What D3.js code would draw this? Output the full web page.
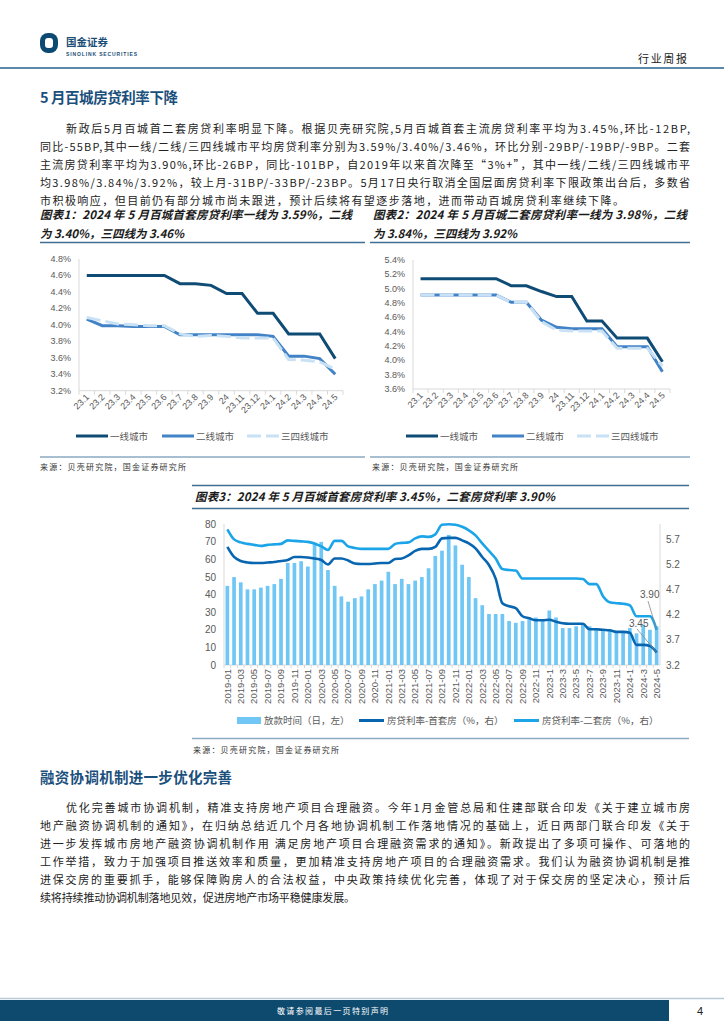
<!DOCTYPE html>
<html>
<head>
<meta charset="utf-8">
<script src="https://cdn.jsdelivr.net/npm/d3@7"></script>
<style>
body{margin:0;background:#fff}
svg{display:block}
text{font-family:"Liberation Sans","Noto Sans CJK SC",sans-serif}
.cjk{font-family:"Noto Sans CJK SC",sans-serif}
</style>
</head>
<body>
<svg id="page" width="724" height="1024"></svg>
<script>
// ---- data: charts 1 & 2 ----
let cityMonths = ['23.1','23.2','23.3','23.4','23.5','23.6','23.7','23.8','23.9','24','23.11','23.12','24.1','24.2','24.3','24.4','24.5']
let firstTier1 = [4.60,4.60,4.60,4.60,4.60,4.60,4.50,4.50,4.48,4.38,4.38,4.14,4.14,3.89,3.89,3.89,3.59]
let secondTier1 = [4.07,3.99,3.99,3.98,3.98,3.98,3.88,3.88,3.88,3.88,3.88,3.88,3.86,3.62,3.62,3.59,3.40]
let thirdTier1 = [4.09,4.05,4.01,4.00,3.99,3.99,3.89,3.86,3.87,3.86,3.84,3.84,3.84,3.58,3.57,3.55,3.46]
let firstTier2 = [5.14,5.14,5.14,5.14,5.14,5.14,5.04,5.04,4.96,4.89,4.89,4.55,4.55,4.31,4.31,4.31,3.98]
let secondTier2 = [4.91,4.91,4.91,4.91,4.91,4.91,4.81,4.81,4.56,4.46,4.44,4.44,4.44,4.19,4.19,4.19,3.84]
let thirdTier2 = [4.91,4.91,4.91,4.91,4.91,4.91,4.81,4.81,4.54,4.42,4.41,4.41,4.41,4.17,4.17,4.17,3.92]
let tierNames = ['一线城市','二线城市','三四线城市']

// ---- data: chart 3 ----
let loanMonths = []
for (let y = 2019; y <= 2024; y++) {
  for (let m = 1; m <= 12; m++) {
    if (y === 2024 && m > 5) break
    loanMonths.push(y + '-' + (y < 2023 && m < 10 ? '0' + m : m))
  }
}
let loanDays = [45,50,47,43,43,44,45,46,49,58,58,59,
  56,69,70,54,45,39,36,38,39,43,46,48,
  53,46,49,46,48,50,55,62,65,74,68,57,
  50,38,34,29,29,29,25,24,25,26,27,26,
  31,27,21,21,22,23,22,21,20,20,19,19,
  21,18,23,20,22]
let firstRate = [5.55,5.35,5.27,5.24,5.23,5.23,5.24,5.25,5.27,5.29,5.35,5.35,
  5.34,5.32,5.29,5.20,5.32,5.32,5.28,5.22,5.21,5.21,5.22,5.23,
  5.23,5.31,5.32,5.38,5.47,5.51,5.51,5.55,5.72,5.73,5.73,5.68,
  5.62,5.52,5.35,5.19,4.92,4.43,4.37,4.33,4.17,4.13,4.09,4.09,
  4.10,4.06,4.03,4.02,4.02,4.02,3.91,3.91,3.90,3.89,3.86,3.86,
  3.84,3.60,3.60,3.58,3.45]
let secondRate = [5.90,5.70,5.64,5.61,5.59,5.57,5.59,5.60,5.61,5.68,5.67,5.66,
  5.65,5.62,5.56,5.49,5.67,5.67,5.56,5.53,5.51,5.51,5.51,5.51,
  5.51,5.61,5.63,5.64,5.72,5.76,5.75,5.80,5.99,6.00,5.99,5.95,
  5.88,5.78,5.62,5.47,5.32,5.11,5.09,5.08,4.92,4.92,4.92,4.92,
  4.92,4.92,4.92,4.92,4.92,4.91,4.81,4.81,4.57,4.45,4.43,4.42,
  4.39,4.17,4.17,4.17,3.90]
let leftTicks = [0,10,20,30,40,50,60,70,80]
let rightTicks = [3.2,3.7,4.2,4.7,5.2,5.7]
let loanLegend = ['放款时间（日，左）','房贷利率-首套房（%，右）','房贷利率-二套房（%，右）']

// ---- text ----
let para1 = [
  '新政后5月百城首二套房贷利率明显下降。根据贝壳研究院,5月百城首套主流房贷利率平均为3.45%,环比-12BP,',
  '同比-55BP,其中一线/二线/三四线城市平均房贷利率分别为3.59%/3.40%/3.46%，环比分别-29BP/-19BP/-9BP。二套',
  '主流房贷利率平均为3.90%,环比-26BP，同比-101BP，自2019年以来首次降至“3%+”，其中一线/二线/三四线城市平',
  '均3.98%/3.84%/3.92%，较上月-31BP/-33BP/-23BP。5月17日央行取消全国层面房贷利率下限政策出台后，多数省',
  '市积极响应，但目前仍有部分城市尚未跟进，预计后续将有望逐步落地，进而带动百城房贷利率继续下降。'
]
let para2 = [
  '优化完善城市协调机制，精准支持房地产项目合理融资。今年1月金管总局和住建部联合印发《关于建立城市房',
  '地产融资协调机制的通知》，在归纳总结近几个月各地协调机制工作落地情况的基础上，近日两部门联合印发《关于',
  '进一步发挥城市房地产融资协调机制作用 满足房地产项目合理融资需求的通知》。新政提出了多项可操作、可落地的',
  '工作举措，致力于加强项目推送效率和质量，更加精准支持房地产项目的合理融资需求。我们认为融资协调机制是推',
  '进保交房的重要抓手，能够保障购房人的合法权益，中央政策持续优化完善，体现了对于保交房的坚定决心，预计后',
  '续将持续推动协调机制落地见效，促进房地产市场平稳健康发展。'
]

let svg = d3.select('#page')
let navy = '#0d4a6e'

// header
svg.append('rect').attr('x', 40).attr('y', 33).attr('width', 18).attr('height', 20).attr('rx', 8).attr('fill', '#0d4a73')
svg.append('rect').attr('x', 45).attr('y', 38).attr('width', 8).attr('height', 10).attr('rx', 3).attr('fill', '#fff')
svg.append('text').attr('class', 'cjk').attr('x', 66).attr('y', 46).attr('font-size', 10.5).attr('font-weight', 'bold')
  .attr('fill', '#1c4f78').attr('textLength', 42).attr('lengthAdjust', 'spacing').text('国金证券')
svg.append('text').attr('x', 66).attr('y', 55.5).attr('font-size', 5).attr('font-weight', 'bold')
  .attr('fill', '#1c4f78').attr('textLength', 71).text('SINOLINK SECURITIES')
svg.append('text').attr('class', 'cjk').attr('x', 638).attr('y', 63).attr('font-size', 11)
  .attr('fill', '#222').attr('textLength', 49).text('行业周报')
svg.append('line').attr('x1', 0).attr('x2', 724).attr('y1', 68).attr('y2', 68).attr('stroke', '#5b87a8').attr('stroke-width', 2)

// headings & paragraphs
let heading = (txt, y, w) => {
  svg.append('text').attr('class', 'cjk').attr('x', 40).attr('y', y).attr('font-size', 14.5)
    .attr('font-weight', 'bold').attr('fill', '#1b4f7c').attr('textLength', w).text(txt)
}
let paragraph = (lines, y0, lastEnd) => {
  lines.forEach((t, i) => {
    let x = i === 0 ? 66 : 40
    let end = i === lines.length - 1 ? lastEnd : 690
    svg.append('text').attr('class', 'cjk').attr('x', x).attr('y', y0 + i * 18).attr('font-size', 11)
      .attr('fill', '#222').attr('textLength', end - x).attr('lengthAdjust', 'spacing').text(t)
  })
}
heading('5 月百城房贷利率下降', 103, 138)
paragraph(para1, 132.5, 624)
heading('融资协调机制进一步优化完善', 783, 192)
paragraph(para2, 812, 355)

// chart title helper
let title = (lines, x, y, widths) => {
  lines.forEach((t, i) => {
    svg.append('text').attr('class', 'cjk').attr('x', x).attr('y', y + i * 18.5).attr('font-size', 11.5)
      .attr('font-weight', 'bold').attr('font-style', 'italic').attr('fill', '#1a1a1a')
      .attr('textLength', widths[i]).attr('lengthAdjust', 'spacing').text(t)
  })
}
let rule = (x1, x2, y, c, w) => {
  svg.append('line').attr('x1', x1).attr('x2', x2).attr('y1', y).attr('y2', y).attr('stroke', c).attr('stroke-width', w)
}
let source = (x, y) => {
  svg.append('text').attr('class', 'cjk').attr('x', x).attr('y', y).attr('font-size', 8)
    .attr('fill', '#333').attr('textLength', 146).text('来源：贝壳研究院，国金证券研究所')
}

// small line charts
let tierStyles = [
  {color: '#0f4c75', dash: null},
  {color: '#4282c6', dash: null},
  {color: '#c9e1f4', dash: '14,5'}
]
let drawSmall = (opt) => {
  let g = svg.append('g')
  let x = d3.scaleBand().domain(cityMonths).range([opt.x0, opt.x1])
  let y = d3.scaleLinear().domain(opt.domain).range([opt.yb, opt.yt])
  let ticks = d3.range(opt.domain[0], opt.domain[1] + 0.001, 0.2)
  g.selectAll('.yl').data(ticks).enter().append('text')
    .attr('x', opt.x0 - 8).attr('y', d => y(d) + 3).attr('text-anchor', 'end')
    .attr('font-size', 9).attr('fill', '#595959').text(d => d3.format('.1f')(d) + '%')
  g.append('line').attr('x1', opt.x0).attr('x2', opt.x0).attr('y1', opt.yt).attr('y2', opt.yb).attr('stroke', '#d9d9d9')
  g.append('line').attr('x1', opt.x0).attr('x2', opt.x1).attr('y1', opt.yb).attr('y2', opt.yb).attr('stroke', '#d9d9d9')
  g.selectAll('.tk').data(cityMonths.concat(['end'])).enter().append('line')
    .attr('x1', (d, i) => opt.x0 + i * x.step()).attr('x2', (d, i) => opt.x0 + i * x.step())
    .attr('y1', opt.yb).attr('y2', opt.yb + 4).attr('stroke', '#d9d9d9')
  g.selectAll('.xl').data(cityMonths).enter().append('text')
    .attr('transform', d => `translate(${x(d) + x.bandwidth() / 2 + 3},${opt.yb + 7}) rotate(-45)`)
    .attr('text-anchor', 'end').attr('font-size', 9).attr('fill', '#595959').text(d => d)
  let line = d3.line().x((d, i) => x(cityMonths[i]) + x.bandwidth() / 2).y(d => y(d))
  opt.series.forEach((s, k) => {
    g.append('path').attr('d', line(s)).attr('fill', 'none').attr('stroke', tierStyles[k].color)
      .attr('stroke-width', 3).attr('stroke-dasharray', tierStyles[k].dash)
  })
  // legend
  opt.legend.forEach((lx, k) => {
    g.append('line').attr('x1', lx).attr('x2', lx + 32).attr('y1', 436).attr('y2', 436)
      .attr('stroke', tierStyles[k].color).attr('stroke-width', 3).attr('stroke-dasharray', tierStyles[k].dash)
    g.append('text').attr('class', 'cjk').attr('x', lx + 34).attr('y', 439.5).attr('font-size', 9.5)
      .attr('fill', '#595959').text(tierNames[k])
  })
}

title(['图表1：2024 年 5 月百城首套房贷利率一线为 3.59%，二线', '为 3.40%，三四线为 3.46%'], 40, 219, [312, 144])
rule(40, 365, 242.5, '#3d6f96', 1.3)
drawSmall({x0: 79, x1: 343, yt: 259, yb: 390.7, domain: [3.2, 4.8],
  series: [firstTier1, secondTier1, thirdTier1], legend: [76, 162, 247]})
rule(40, 365, 457, '#8aaac2', 1.5)
source(40, 470)

title(['图表2：2024 年 5 月百城二套房贷利率一线为 3.98%，二线', '为 3.84%，三四线为 3.92%'], 373, 219, [314, 144])
rule(370, 690, 242.5, '#3d6f96', 1.3)
drawSmall({x0: 413, x1: 670, yt: 260, yb: 389, domain: [3.6, 5.4],
  series: [firstTier2, secondTier2, thirdTier2], legend: [406, 492, 577]})
rule(370, 690, 457, '#8aaac2', 1.5)
source(372, 470)

// chart 3: loan days bars + rate lines
rule(192, 689, 485.5, '#3d6f96', 1.3)
title(['图表3：2024 年 5 月百城首套房贷利率 3.45%，二套房贷利率 3.90%'], 195, 501, [360])
rule(192, 689, 508.5, '#3d6f96', 1.3)

let c3 = svg.append('g')
let x3 = d3.scalePoint().domain(loanMonths).range([224, 660]).padding(0.5)
let yL = d3.scaleLinear().domain([0, 80]).range([665, 524.3])
let yR = d3.scaleLinear().domain([3.2, 6.0]).range([665, 524.3])
let barW = x3.step() * 0.55

c3.append('line').attr('x1', 224).attr('x2', 224).attr('y1', 524).attr('y2', 665).attr('stroke', '#d9d9d9')
c3.append('line').attr('x1', 660).attr('x2', 660).attr('y1', 524).attr('y2', 665).attr('stroke', '#d9d9d9')
c3.append('line').attr('x1', 224).attr('x2', 660).attr('y1', 665).attr('y2', 665).attr('stroke', '#d9d9d9')
c3.selectAll('.tk').data(loanMonths).enter().append('line')
  .attr('x1', d => x3(d) - x3.step() / 2).attr('x2', d => x3(d) - x3.step() / 2)
  .attr('y1', 665).attr('y2', 668).attr('stroke', '#d9d9d9')

c3.selectAll('.yl').data(leftTicks).enter().append('text')
  .attr('x', 216).attr('y', d => yL(d) + 3.5).attr('text-anchor', 'end')
  .attr('font-size', 10).attr('fill', '#595959').text(d => d)
c3.selectAll('.yr').data(rightTicks).enter().append('text')
  .attr('x', 666).attr('y', d => yR(d) + 3.5)
  .attr('font-size', 10).attr('fill', '#595959').text(d => d3.format('.1f')(d))
c3.selectAll('.xl').data(loanMonths.filter((d, i) => i % 2 === 0)).enter().append('text')
  .attr('transform', d => `translate(${x3(d) + 3.3},${669}) rotate(-90)`)
  .attr('text-anchor', 'end').attr('font-size', 9.5).attr('fill', '#595959').text(d => d)

c3.selectAll('.bar').data(loanDays).enter().append('rect')
  .attr('x', (d, i) => x3(loanMonths[i]) - barW / 2).attr('width', barW)
  .attr('y', d => yL(d)).attr('height', d => 665 - yL(d)).attr('fill', '#70c7f5')

let rateLine = d3.line().x((d, i) => x3(loanMonths[i])).y(d => yR(d)).curve(d3.curveMonotoneX)
c3.append('path').attr('d', rateLine(firstRate)).attr('fill', 'none').attr('stroke', '#0866b0').attr('stroke-width', 2.6)
c3.append('path').attr('d', rateLine(secondRate)).attr('fill', 'none').attr('stroke', '#1ca4e8').attr('stroke-width', 2.6)

// end-value callouts
let lastM = loanMonths[loanMonths.length - 1]
let callouts = [
  {v: secondRate[secondRate.length - 1], tx: 640, ty: 598, lx: 648, ly: 601},
  {v: firstRate[firstRate.length - 1], tx: 629, ty: 627, lx: 637, ly: 629}
]
callouts.forEach(c => {
  c3.append('line').attr('x1', c.lx).attr('y1', c.ly).attr('x2', x3(lastM)).attr('y2', yR(c.v))
    .attr('stroke', '#888').attr('stroke-width', 0.8)
  c3.append('text').attr('x', c.tx).attr('y', c.ty).attr('font-size', 10).attr('fill', '#595959').text(d3.format('.2f')(c.v))
})

// legend
c3.append('rect').attr('x', 237).attr('y', 717).attr('width', 24).attr('height', 7).attr('fill', '#70c7f5')
c3.append('line').attr('x1', 359).attr('x2', 384).attr('y1', 720.5).attr('y2', 720.5).attr('stroke', '#0866b0').attr('stroke-width', 3)
c3.append('line').attr('x1', 514).attr('x2', 539).attr('y1', 720.5).attr('y2', 720.5).attr('stroke', '#1ca4e8').attr('stroke-width', 3)
let legX = [264, 387, 542]
loanLegend.forEach((t, k) => {
  c3.append('text').attr('class', 'cjk').attr('x', legX[k]).attr('y', 724).attr('font-size', 9.5)
    .attr('fill', '#595959').text(t)
})
rule(192, 689, 738.5, '#8aaac2', 1.5)
source(193, 753)

// footer
rule(0, 724, 998.5, '#b8cad8', 1.5)
svg.append('rect').attr('x', 0).attr('y', 1000).attr('width', 669).attr('height', 21).attr('fill', navy)
svg.append('text').attr('class', 'cjk').attr('x', 277).attr('y', 1013.5).attr('font-size', 8)
  .attr('fill', '#fff').attr('textLength', 111).text('敬请参阅最后一页特别声明')
svg.append('text').attr('x', 697).attr('y', 1015).attr('font-size', 11).attr('fill', '#222').text('4')
</script>
</body>
</html>
